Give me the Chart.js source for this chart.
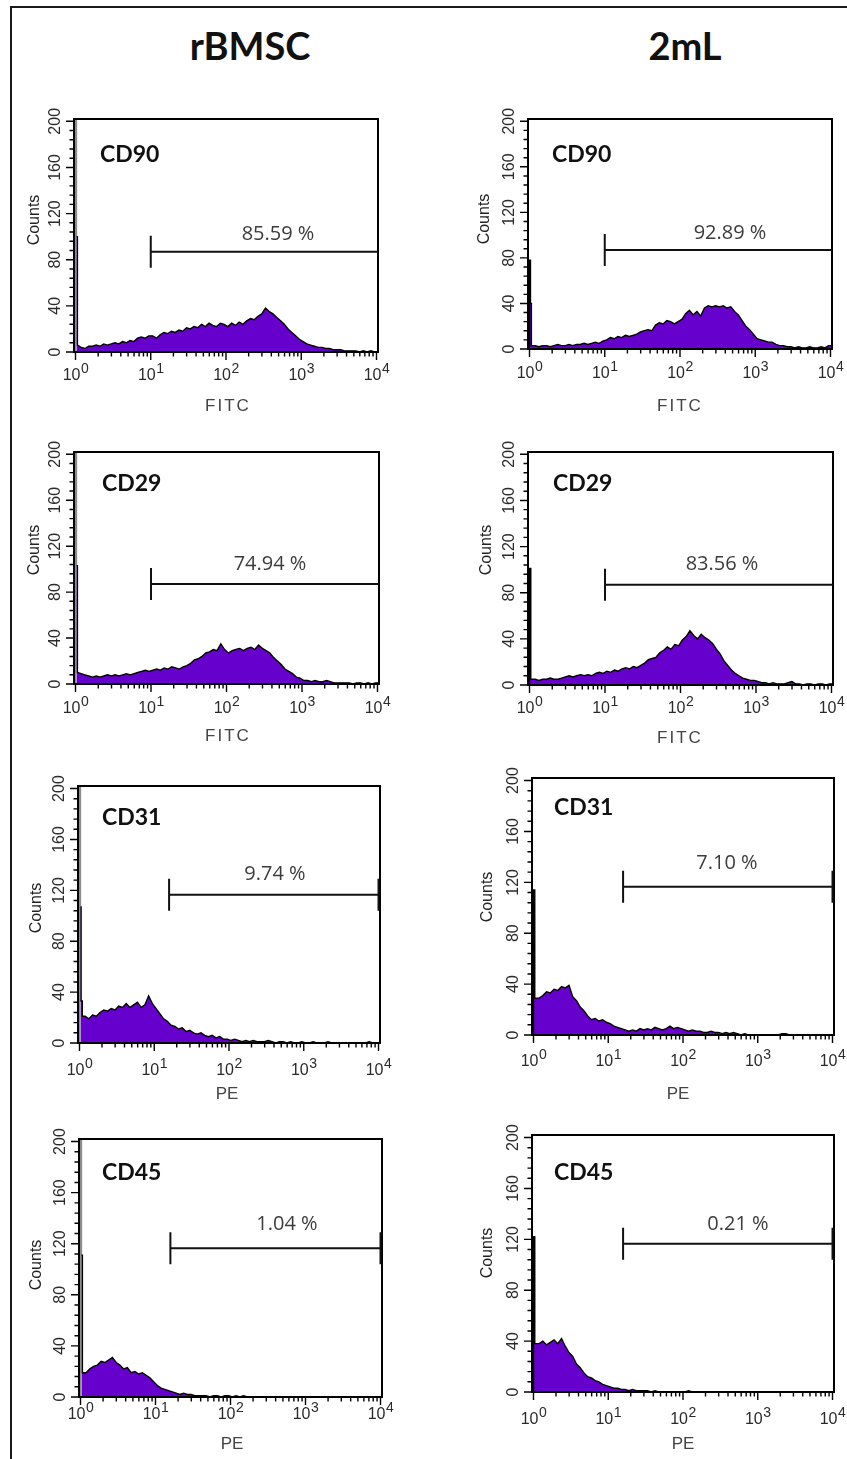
<!DOCTYPE html>
<html lang="en">
<head>
<meta charset="utf-8">
<title>Flow cytometry – rBMSC vs 2mL</title>
<script src="https://cdn.jsdelivr.net/npm/chart.js@4.4.1/dist/chart.umd.min.js"></script>
<style>
  html, body { margin: 0; padding: 0; background: #fff; }
  #sheet { position: relative; width: 847px; height: 1459px; overflow: hidden; background: #fff; }
  #frame { position: absolute; left: 10px; top: 6px; right: -10px; bottom: -10px; border-left: 2px solid #1a1a1a; border-top: 2px solid #1a1a1a; }
  .group { position: absolute; top: 26px; width: 240px; margin-left: -120px; text-align: center; font: bold 38px Lato, sans-serif; line-height: 38px; color: #111; }
  #sheet canvas { position: absolute; }
</style>
</head>
<body>
<div id="sheet">
  <div id="frame"></div>
  <div class="group" style="left:250px">rBMSC</div>
  <div class="group" style="left:685px">2mL</div>
</div>
<script>
// --- histogram channels: 20 log bins per decade, 10^0 .. 10^4 ---
const BINS_PER_DECADE = 20;
const X_MIN = Math.pow(10, -0.02);
const X_MAX = Math.pow(10, 4.02);
const Y_MAX = 202;

const groups = ['rBMSC', '2mL'];
const markers = ['CD90', 'CD29', 'CD31', 'CD45'];
const channels = ['FITC', 'FITC', 'PE', 'PE'];
const yTicks = [0, 40, 80, 120, 160, 200];
const xDecades = [0, 1, 2, 3, 4];

// % positive inside the gate
const rbmscPositive = [85.59, 74.94, 9.74, 1.04];
const ml2Positive = [92.89, 83.56, 7.10, 0.21];
// gate marker: start channel and drawing height (counts)
const gateStart = [10, 10, 15.8, 15.8];
const gateLevel = [87, 87, 116.5, 116.5];

// outline of the first channels near 10^0 (pile-up spikes), [channel, count]
const rbmscCD90Head = [[1, 0], [1, 240], [1.03, 240], [1.03, 100], [1.06, 100], [1.06, 6]];
const rbmscCD29Head = [[1, 0], [1, 240], [1.03, 240], [1.03, 103], [1.06, 103], [1.06, 10]];
const rbmscCD31Head = [[1, 0], [1, 240], [1.03, 240], [1.03, 107], [1.05, 107], [1.05, 33], [1.09, 33], [1.09, 21]];
const rbmscCD45Head = [[1, 0], [1, 240], [1.03, 240], [1.03, 111], [1.06, 111], [1.06, 19]];
const ml2CD90Head = [[1, 0], [1, 78], [1.03, 78], [1.03, 40], [1.06, 40], [1.06, 3]];
const ml2CD29Head = [[1, 0], [1, 101], [1.04, 101], [1.04, 5]];
const ml2CD31Head = [[1, 0], [1, 114], [1.04, 114], [1.04, 29]];
const ml2CD45Head = [[1, 0], [1, 122], [1.04, 122], [1.04, 38]];

// counts per bin, bins 1..79 (starting at 10^0.05)
const rbmscCD90 = [
  4, 3, 5, 5, 6, 5, 7, 6, 7, 8, 7, 9, 8, 10, 9, 12, 13, 12, 14,
  14, 12, 15, 17, 16, 18, 17, 19, 18, 21, 20, 22, 21, 24, 22, 25, 23, 22, 25, 24,
  22, 25, 23, 26, 24, 27, 29, 28, 31, 33, 38, 35, 33, 30, 27, 24, 20, 17, 14, 11,
  9, 7, 6, 5, 4, 4, 3, 3, 2, 2, 2, 1, 1, 1, 1, 0, 1, 0, 1, 0
];
const rbmscCD29 = [
  9, 8, 7, 6, 7, 6, 7, 8, 7, 8, 7, 8, 9, 8, 9, 10, 11, 12, 11,
  12, 13, 12, 14, 13, 15, 14, 13, 15, 16, 18, 21, 22, 24, 27, 28, 30, 29, 35, 30,
  27, 29, 30, 31, 29, 31, 32, 30, 34, 31, 29, 27, 23, 20, 17, 13, 11, 9, 6, 5,
  3, 3, 2, 3, 2, 2, 3, 2, 1, 1, 1, 1, 1, 0, 1, 1, 0, 1, 0, 1
];
const rbmscCD31 = [
  21, 19, 22, 21, 24, 26, 25, 27, 26, 29, 28, 31, 28, 30, 32, 28, 30, 37, 31,
  27, 23, 19, 17, 14, 13, 11, 12, 9, 10, 8, 7, 8, 6, 5, 6, 4, 5, 3, 3,
  2, 3, 2, 1, 2, 1, 2, 1, 1, 1, 2, 1, 0, 1, 1, 0, 1, 0, 0, 1,
  0, 0, 1, 0, 0, 0, 1, 0, 0, 0, 0, 0, 0, 0, 0, 0, 0, 1, 0, 0
];
const rbmscCD45 = [
  19, 22, 24, 25, 28, 27, 29, 31, 27, 25, 22, 23, 19, 20, 18, 19, 17, 15, 12,
  9, 7, 6, 5, 4, 3, 2, 3, 2, 2, 1, 1, 1, 1, 0, 1, 1, 0, 1, 1,
  0, 1, 0, 1, 0, 0, 0, 0, 0, 0, 0, 0, 0, 0, 0, 0, 0, 0, 0, 0,
  0, 0, 0, 0, 0, 0, 0, 0, 0, 0, 0, 0, 0, 0, 0, 0, 0, 0, 0, 0
];
const ml2CD90 = [
  3, 2, 3, 3, 2, 3, 4, 3, 3, 4, 3, 4, 4, 5, 4, 5, 6, 5, 7,
  8, 10, 9, 11, 10, 12, 11, 12, 13, 15, 16, 17, 16, 21, 23, 22, 25, 24, 22, 24,
  26, 31, 34, 30, 33, 29, 36, 38, 37, 38, 37, 38, 36, 37, 33, 30, 25, 20, 17, 13,
  9, 8, 7, 6, 6, 4, 3, 3, 2, 2, 1, 2, 1, 1, 2, 1, 1, 2, 1, 3
];
const ml2CD29 = [
  5, 4, 5, 5, 6, 5, 5, 6, 7, 8, 7, 8, 9, 8, 9, 8, 10, 11, 10,
  12, 11, 13, 12, 14, 15, 14, 16, 15, 17, 19, 22, 23, 24, 28, 30, 33, 31, 35, 34,
  39, 42, 47, 43, 40, 44, 41, 39, 36, 31, 27, 21, 17, 13, 10, 8, 6, 5, 4, 4,
  3, 2, 2, 1, 2, 1, 1, 1, 2, 3, 1, 1, 0, 1, 1, 0, 1, 1, 0, 1
];
const ml2CD31 = [
  29, 31, 34, 33, 36, 35, 38, 37, 39, 30, 27, 22, 19, 15, 12, 13, 11, 12, 10,
  9, 7, 6, 5, 4, 3, 4, 3, 5, 4, 5, 4, 6, 5, 4, 5, 7, 5, 6, 5,
  4, 3, 4, 3, 3, 2, 2, 3, 2, 2, 1, 2, 1, 2, 1, 0, 1, 0, 0, 0,
  0, 0, 0, 0, 0, 0, 1, 1, 0, 0, 0, 0, 0, 0, 0, 0, 0, 0, 0, 0
];
const ml2CD45 = [
  38, 40, 37, 39, 41, 38, 42, 36, 31, 28, 22, 19, 15, 12, 11, 9, 8, 6, 5,
  4, 3, 3, 2, 2, 1, 2, 1, 1, 1, 1, 0, 1, 0, 0, 0, 0, 0, 0, 0,
  0, 1, 0, 0, 0, 0, 0, 0, 0, 0, 0, 0, 0, 0, 0, 0, 0, 0, 0, 0,
  0, 0, 0, 0, 0, 0, 0, 0, 0, 0, 0, 0, 0, 0, 0, 0, 0, 0, 0, 0
];

const rbmscHeads = [rbmscCD90Head, rbmscCD29Head, rbmscCD31Head, rbmscCD45Head];
const ml2Heads = [ml2CD90Head, ml2CD29Head, ml2CD31Head, ml2CD45Head];
const rbmscCounts = [rbmscCD90, rbmscCD29, rbmscCD31, rbmscCD45];
const ml2Counts = [ml2CD90, ml2CD29, ml2CD31, ml2CD45];

// --- page layout (plot box and label anchors, page px) ---
const PAD = { left: 76, top: 40, right: 16, bottom: 72 };
const panels = [
  { row: 0, col: 0, box: [74, 119, 378, 352], counts: [33, 220], tickBase: 380, title: [227, 405], marker: [100, 154], pct: [278, 233] },
  { row: 0, col: 1, box: [528, 119, 832, 349], counts: [483, 219], tickBase: 378, title: [679, 405], marker: [552, 154], pct: [730, 232] },
  { row: 1, col: 0, box: [74, 452, 379, 684], counts: [33, 550], tickBase: 713, title: [227, 735], marker: [102, 483], pct: [270, 563] },
  { row: 1, col: 1, box: [528, 452, 833, 685], counts: [485, 550], tickBase: 713, title: [679, 737], marker: [553, 483], pct: [722, 563] },
  { row: 2, col: 0, box: [78, 786, 380, 1043], counts: [35, 908], tickBase: 1075, title: [227, 1093], marker: [102, 817], pct: [275, 873] },
  { row: 2, col: 1, box: [532, 778, 834, 1035], counts: [486, 897], tickBase: 1066, title: [678, 1093], marker: [554, 807], pct: [727, 862] },
  { row: 3, col: 0, box: [79, 1139, 382, 1397], counts: [35, 1265], tickBase: 1419, title: [232, 1443], marker: [102, 1172], pct: [287, 1223] },
  { row: 3, col: 1, box: [532, 1135, 834, 1392], counts: [486, 1253], tickBase: 1424, title: [683, 1443], marker: [554, 1172], pct: [738, 1223] }
];

// head outline, then one point per bin at the bin centre
function histogramPoints(head, counts) {
  const pts = head.map(([x, y]) => ({ x, y }));
  counts.forEach((c, i) => pts.push({ x: Math.pow(10, (i + 1.5) / BINS_PER_DECADE), y: c }));
  pts.push({ x: X_MAX, y: counts[counts.length - 1] });
  return pts;
}

// text centred on its cap height, optionally rotated to read bottom-up
function capText(ctx, text, x, y, size, rotate) {
  ctx.save();
  ctx.translate(x, y);
  if (rotate) ctx.rotate(-Math.PI / 2);
  ctx.fillText(text, 0, size * 0.36);
  ctx.restore();
}

function facsPanel(p, pct) {
  const ox = p.box[0] - PAD.left, oy = p.box[1] - PAD.top;
  const isPE = channels[p.row] === 'PE';
  return {
    id: 'facsPanel',
    afterDatasetsDraw(chart) {
      const { ctx, chartArea: a, scales: { x, y } } = chart;
      ctx.save();

      // plot frame
      ctx.strokeStyle = '#000';
      ctx.lineWidth = 2;
      ctx.strokeRect(a.left, a.top, a.right - a.left, a.bottom - a.top);

      // y ticks every 8 counts, labelled every 40
      ctx.lineWidth = 1.4;
      ctx.beginPath();
      for (let v = 0; v <= 200; v += 8) {
        const py = y.getPixelForValue(v);
        const len = v % 40 === 0 ? 8 : 4.5;
        ctx.moveTo(a.left - len, py);
        ctx.lineTo(a.left, py);
      }
      // x ticks: decades long, 2..9 short
      xDecades.forEach(n => {
        const steps = n < 4 ? [1, 2, 3, 4, 5, 6, 7, 8, 9] : [1];
        steps.forEach(k => {
          const px = x.getPixelForValue(k * Math.pow(10, n));
          ctx.moveTo(px, a.bottom);
          ctx.lineTo(px, a.bottom + (k === 1 ? 8 : 4.5));
        });
      });
      ctx.stroke();

      ctx.fillStyle = '#2a2a2a';
      ctx.textAlign = 'center';
      ctx.font = '16px "Liberation Sans", Arial, sans-serif';
      yTicks.forEach(v => capText(ctx, String(v), a.left - 20, y.getPixelForValue(v), 16, true));

      // 10^n labels
      const base = p.tickBase - oy;
      xDecades.forEach(n => {
        const px = x.getPixelForValue(Math.pow(10, n));
        ctx.font = '16px "Liberation Sans", Arial, sans-serif';
        const w1 = ctx.measureText('10').width;
        ctx.font = '14px "Liberation Sans", Arial, sans-serif';
        const w2 = ctx.measureText(String(n)).width;
        const start = px - (w1 + w2) / 2;
        ctx.textAlign = 'left';
        ctx.font = '16px "Liberation Sans", Arial, sans-serif';
        ctx.fillText('10', start, base);
        ctx.font = '14px "Liberation Sans", Arial, sans-serif';
        ctx.fillText(String(n), start + w1 + 0.5, base - 7);
      });

      // axis titles
      ctx.textAlign = 'center';
      ctx.fillStyle = '#222';
      ctx.font = '16px "Liberation Sans", Arial, sans-serif';
      capText(ctx, 'Counts', p.counts[0] - ox, p.counts[1] - oy, 16, true);
      ctx.fillStyle = '#444';
      ctx.font = '17px "Liberation Sans", Arial, sans-serif';
      if (!isPE) ctx.letterSpacing = '2px';
      capText(ctx, channels[p.row], p.title[0] - ox + (isPE ? 0 : 1), p.title[1] - oy, 17, false);
      ctx.letterSpacing = '0px';

      // marker name
      ctx.textAlign = 'left';
      ctx.fillStyle = '#111';
      ctx.font = 'bold 23px Lato, sans-serif';
      capText(ctx, markers[p.row], p.marker[0] - ox, p.marker[1] - oy, 23, false);

      // positive gate
      const gx0 = x.getPixelForValue(gateStart[p.row]);
      const gx1 = isPE ? x.getPixelForValue(10000) : a.right;
      const gy = y.getPixelForValue(gateLevel[p.row]);
      ctx.strokeStyle = '#111';
      ctx.lineWidth = 2;
      ctx.beginPath();
      ctx.moveTo(gx0, gy);
      ctx.lineTo(gx1, gy);
      ctx.moveTo(gx0, gy - 16);
      ctx.lineTo(gx0, gy + 16);
      if (isPE) {
        ctx.moveTo(gx1, gy - 16);
        ctx.lineTo(gx1, gy + 16);
      }
      ctx.stroke();

      ctx.textAlign = 'center';
      ctx.fillStyle = '#3c3c3c';
      ctx.font = '20px "Open Sans", sans-serif';
      capText(ctx, pct.toFixed(2) + ' %', p.pct[0] - ox, p.pct[1] - oy, 20, false);

      ctx.restore();
    }
  };
}

const sheet = document.getElementById('sheet');
panels.forEach(p => {
  const [l, t, r, b] = p.box;
  const w = r - l + PAD.left + PAD.right;
  const h = b - t + PAD.top + PAD.bottom;
  const canvas = document.createElement('canvas');
  canvas.width = w;
  canvas.height = h;
  canvas.style.left = (l - PAD.left) + 'px';
  canvas.style.top = (t - PAD.top) + 'px';
  canvas.style.width = w + 'px';
  canvas.style.height = h + 'px';
  sheet.appendChild(canvas);

  const head = p.col === 0 ? rbmscHeads[p.row] : ml2Heads[p.row];
  const counts = p.col === 0 ? rbmscCounts[p.row] : ml2Counts[p.row];
  const pct = p.col === 0 ? rbmscPositive[p.row] : ml2Positive[p.row];

  new Chart(canvas, {
    type: 'line',
    data: {
      datasets: [{
        label: groups[p.col] + ' ' + markers[p.row],
        data: histogramPoints(head, counts),
        fill: 'origin',
        backgroundColor: '#6600cc',
        borderColor: '#000',
        borderWidth: 1.4,
        tension: 0,
        pointRadius: 0,
        segment: {
          // off-scale first channel is drawn grey
          borderColor: c => (c.p0.parsed.y > Y_MAX || c.p1.parsed.y > Y_MAX) ? '#8c8c8c' : undefined
        }
      }]
    },
    options: {
      responsive: false,
      animation: false,
      devicePixelRatio: 1,
      events: [],
      layout: { padding: PAD },
      plugins: { legend: { display: false }, tooltip: { enabled: false } },
      scales: {
        x: { type: 'logarithmic', min: X_MIN, max: X_MAX, display: false },
        y: { type: 'linear', min: 0, max: Y_MAX, display: false }
      }
    },
    plugins: [facsPanel(p, pct)]
  });
});
</script>
</body>
</html>
